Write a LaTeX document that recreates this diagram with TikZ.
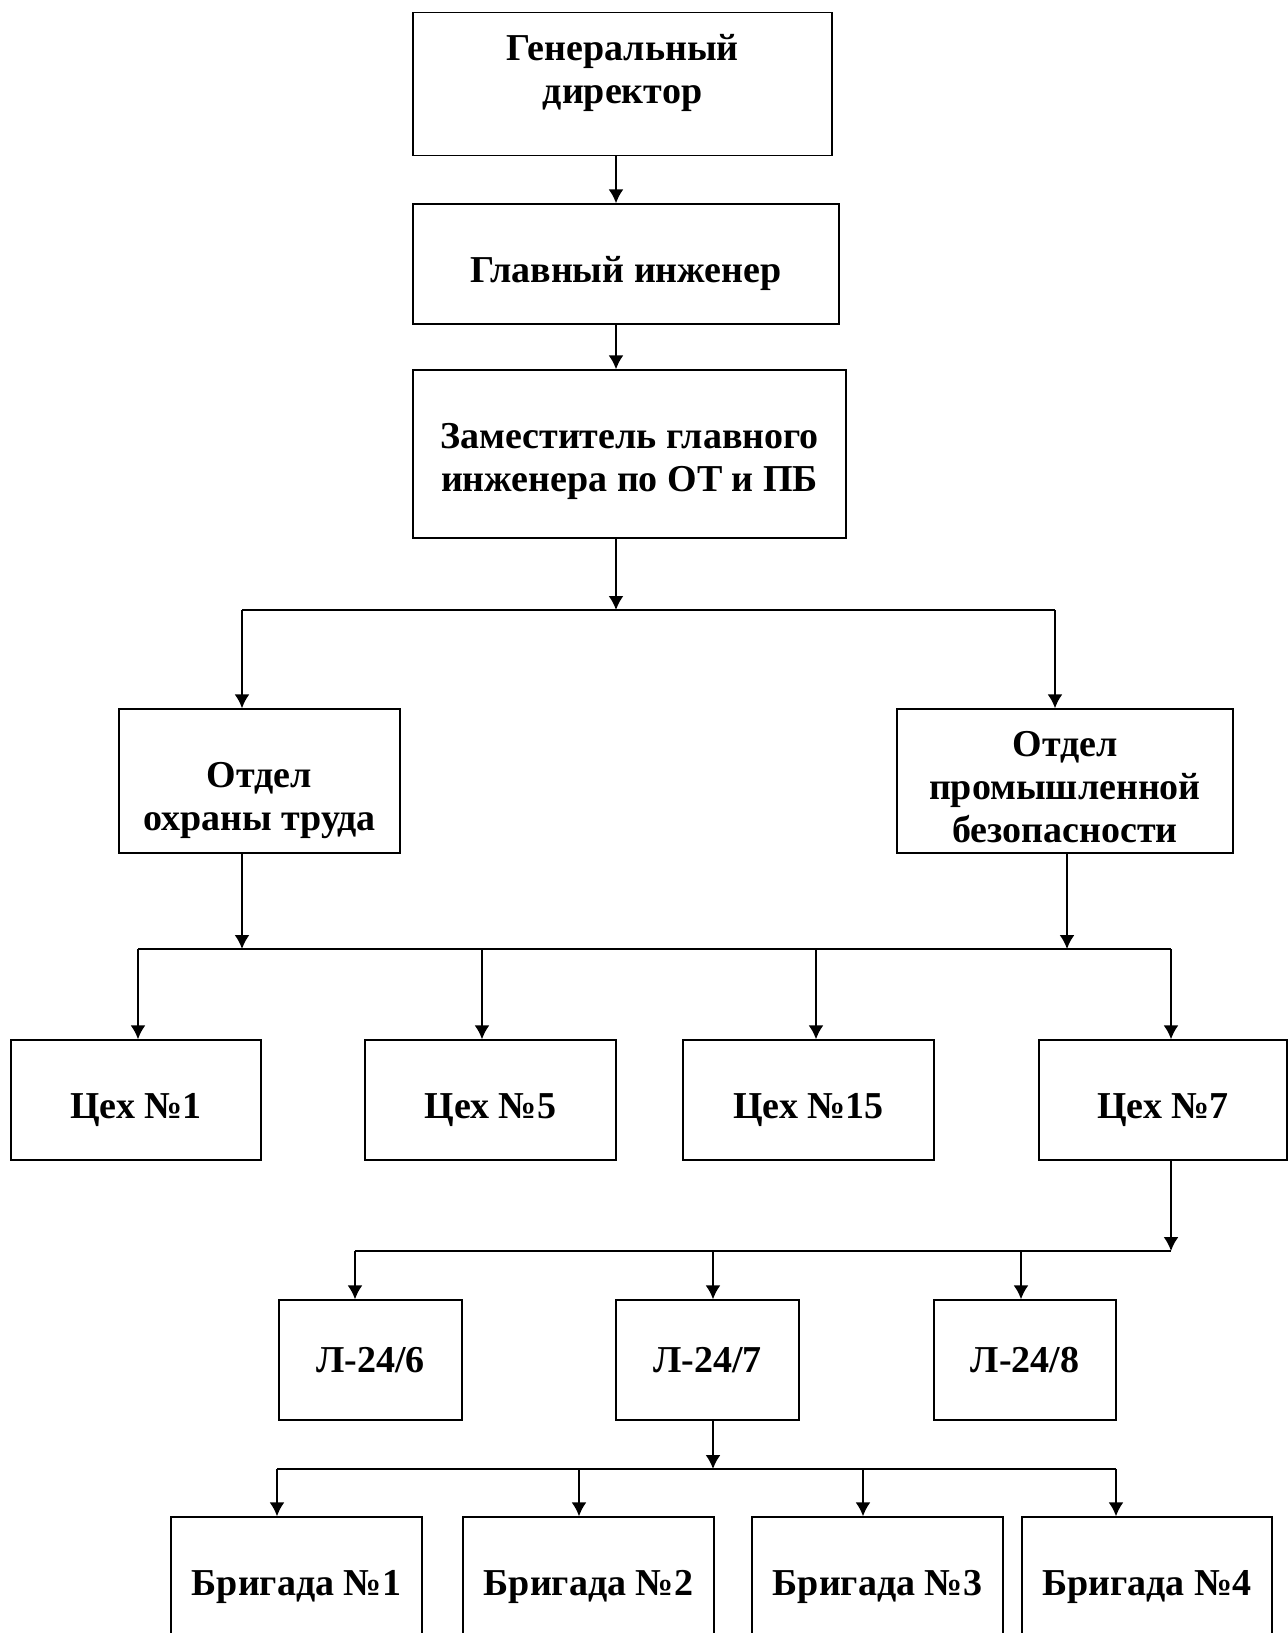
\documentclass[tikz,border=0pt]{standalone}
\usepackage{fontspec}
\setmainfont{Liberation Serif}
\usetikzlibrary{arrows.meta}

% invisible strut: height #1 above and depth #2 below the baseline
\newcommand{\boxstrut}[2]{\rule[-#2]{0pt}{\dimexpr#1+#2\relax}}

\tikzset{box/.style={draw, rectangle, line width=0.7pt, align=center, inner sep=2pt,
    font=\fontsize{19}{21.5}\selectfont\bfseries, minimum height=60pt},
  low/.style={text height=22.3pt, text depth=4pt}}

\begin{document}
\begin{tikzpicture}[x=0.5pt,y=-0.5pt,>={Latex[length=7pt,width=7.5pt]},line width=1pt]
  \useasboundingbox (0,0) rectangle (1288,1633);

  \node[box, minimum width=209.5pt, minimum height=71.75pt] (gd)  at (622.5,84)  {Генеральный\\директор\boxstrut{0pt}{15pt}};
  \node[box, low, minimum width=213pt]                      (gi)  at (626,264)   {Главный инженер};
  \node[box, minimum width=216.5pt, minimum height=84pt]    (zam) at (629.5,454) {\boxstrut{20pt}{0pt}Заместитель главного\\инженера по ОТ и ПБ};
  \node[box, minimum width=140.5pt, minimum height=72pt]    (oot) at (259.5,781) {\boxstrut{32pt}{0pt}Отдел\\охраны труда};
  \node[box, minimum width=168pt, minimum height=72pt]      (opb) at (1065,781)  {\boxstrut{19pt}{0pt}Отдел\\промышленной\\безопасности};

  \node[box, low, minimum width=125pt]   (c1)  at (136,1100)   {Цех №1};
  \node[box, low, minimum width=125.5pt] (c5)  at (490.5,1100) {Цех №5};
  \node[box, low, minimum width=125.5pt] (c15) at (808.5,1100) {Цех №15};
  \node[box, low, minimum width=124pt]   (c7)  at (1163,1100)  {Цех №7};

  \node[box, minimum width=91.5pt] (l6) at (370.5,1360) {Л-24/6};
  \node[box, minimum width=91.5pt] (l7) at (707.5,1360) {Л-24/7};
  \node[box, minimum width=91pt]   (l8) at (1025,1360)  {Л-24/8};

  \node[box, low, minimum width=125.5pt] (b1) at (296.5,1577) {Бригада №1};
  \node[box, low, minimum width=125.5pt] (b2) at (588.5,1577) {Бригада №2};
  \node[box, low, minimum width=125.5pt] (b3) at (877.5,1577) {Бригада №3};
  \node[box, low, minimum width=125pt]   (b4) at (1147,1577)  {Бригада №4};

  % top chain
  \coordinate (j1)  at (616,610);
  \coordinate (j1l) at (242,610);
  \coordinate (j1r) at (1055,610);
  \draw[->] (gd.south -| j1) -- (gi.north -| j1);
  \draw[->] (gi.south -| j1) -- (zam.north -| j1);
  \draw[->] (zam.south -| j1) -- (j1);
  \draw (j1l) -- (j1r);
  \draw[->] (j1l) -- (oot.north -| j1l);
  \draw[->] (j1r) -- (opb.north -| j1r);

  % departments to shops
  \coordinate (j2a) at (242,949);
  \coordinate (j2b) at (1067,949);
  \coordinate (j2l) at (138,949);
  \coordinate (j2r) at (1171,949);
  \draw[->] (oot.south -| j2a) -- (j2a);
  \draw[->] (opb.south -| j2b) -- (j2b);
  \draw (j2l) -- (j2r);
  \foreach \x/\n in {138/c1, 482/c5, 816/c15, 1171/c7} {
    \coordinate (t) at (\x,949);
    \draw[->] (t) -- (\n.north -| t);
  }

  % shop 7 to lines
  \coordinate (j3)  at (1171,1251);
  \coordinate (j3l) at (355,1251);
  \draw[->] (c7.south -| j3) -- (j3);
  \draw (j3l) -- (j3);
  \foreach \x/\n in {355/l6, 713/l7, 1021/l8} {
    \coordinate (t) at (\x,1251);
    \draw[->] (t) -- (\n.north -| t);
  }

  % line 7 to crews
  \coordinate (j4)  at (713,1469);
  \coordinate (j4l) at (277,1469);
  \coordinate (j4r) at (1116,1469);
  \draw[->] (l7.south -| j4) -- (j4);
  \draw (j4l) -- (j4r);
  \foreach \x/\n in {277/b1, 579/b2, 863/b3, 1116/b4} {
    \coordinate (t) at (\x,1469);
    \draw[->] (t) -- (\n.north -| t);
  }
\end{tikzpicture}
\end{document}
